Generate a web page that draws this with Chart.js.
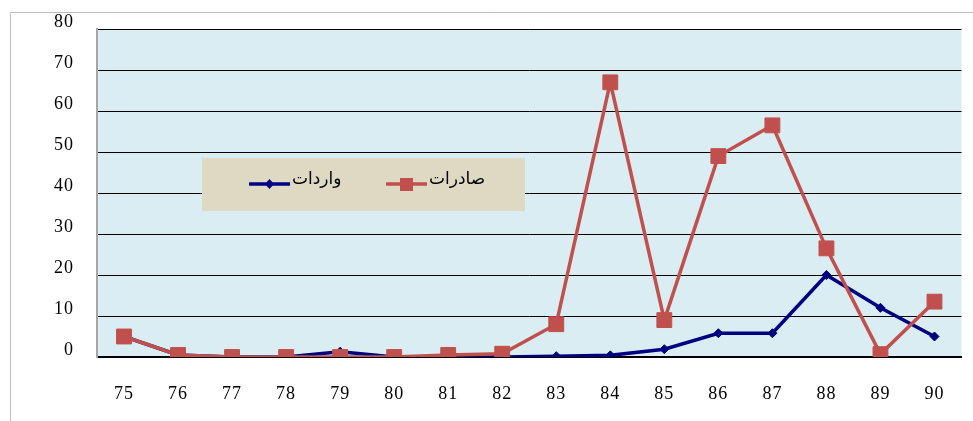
<!DOCTYPE html>
<html>
<head>
<meta charset="utf-8">
<script src="https://cdn.jsdelivr.net/npm/chart.js@4/dist/chart.umd.min.js"></script>
<style>
  html, body { margin: 0; padding: 0; background: #ffffff; }
  #wrap { width: 973px; height: 421px; position: relative; }
</style>
</head>
<body>
<div id="wrap"><canvas id="c" width="973" height="421"></canvas></div>
<script>
const years = ['75','76','77','78','79','80','81','82','83','84','85','86','87','88','89','90'];
const exportsVals = [5, 0.5, 0, 0, 0, 0, 0.5, 0.8, 8, 67, 9, 49, 56.5, 26.5, 0.7, 13.5];
const importsVals = [5, 0.5, 0, 0, 1.3, 0, 0, 0, 0.2, 0.4, 1.9, 5.8, 5.8, 20, 12, 5];
const exportsLabel = 'صادرات';
const importsLabel = 'واردات';
const yTicks = [0, 10, 20, 30, 40, 50, 60, 70, 80];

const RED = '#c0504d';
const NAVY = '#000080';

const bgPlugin = {
  id: 'bg',
  beforeDraw(chart) {
    const { ctx, chartArea: a } = chart;
    ctx.save();
    ctx.fillStyle = '#ffffff';
    ctx.fillRect(0, 0, chart.width, chart.height);
    ctx.fillStyle = '#daedf3';
    ctx.fillRect(a.left, a.top, a.right - a.left, a.bottom - a.top);
    ctx.strokeStyle = '#bdbdbd';
    ctx.lineWidth = 1;
    ctx.beginPath();
    ctx.moveTo(10.5, chart.height);
    ctx.lineTo(10.5, 12.5);
    ctx.lineTo(chart.width, 12.5);
    ctx.stroke();
    ctx.restore();
    ctx.letterSpacing = '1px';
  }
};

const legendPlugin = {
  id: 'boxLegend',
  afterDatasetsDraw(chart) {
    const ctx = chart.ctx;
    ctx.save();
    ctx.letterSpacing = '0px';
    ctx.fillStyle = '#ddd9c3';
    ctx.fillRect(202, 158, 323, 53);
    ctx.font = '17px "DejaVu Sans"';
    ctx.textBaseline = 'middle';
    ctx.textAlign = 'left';
    // imports item
    ctx.strokeStyle = NAVY;
    ctx.lineWidth = 3.5;
    ctx.beginPath(); ctx.moveTo(249, 184); ctx.lineTo(290, 184); ctx.stroke();
    ctx.fillStyle = NAVY;
    ctx.beginPath();
    ctx.moveTo(269.5, 179); ctx.lineTo(274, 184); ctx.lineTo(269.5, 189); ctx.lineTo(265, 184); ctx.closePath(); ctx.fill();
    ctx.fillStyle = '#000';
    ctx.fillText(importsLabel, 292, 180);
    // exports item
    ctx.strokeStyle = RED;
    ctx.lineWidth = 3.5;
    ctx.beginPath(); ctx.moveTo(386, 184); ctx.lineTo(427, 184); ctx.stroke();
    ctx.fillStyle = RED;
    ctx.fillRect(400, 178, 13, 13);
    ctx.fillStyle = '#000';
    ctx.fillText(exportsLabel, 429, 180);
    ctx.restore();
  }
};

new Chart(document.getElementById('c'), {
  type: 'line',
  data: {
    labels: years,
    datasets: [
      {
        label: exportsLabel,
        data: exportsVals,
        borderColor: RED,
        backgroundColor: RED,
        borderWidth: 3.5,
        pointStyle: 'rect',
        pointRadius: 10.5,
        pointBorderWidth: 1,
        pointBackgroundColor: RED,
        pointBorderColor: RED,
        tension: 0
      },
      {
        label: importsLabel,
        data: importsVals,
        borderColor: NAVY,
        backgroundColor: NAVY,
        borderWidth: 3.5,
        pointStyle: 'rectRot',
        pointRadius: 4.5,
        pointBorderWidth: 1,
        pointBackgroundColor: NAVY,
        pointBorderColor: NAVY,
        tension: 0
      }
    ]
  },
  options: {
    responsive: false,
    animation: false,
    devicePixelRatio: 1,
    layout: { padding: { top: 29, right: 11, left: 0, bottom: 0 } },
    plugins: {
      legend: { display: false },
      tooltip: { enabled: false }
    },
    scales: {
      x: {
        offset: true,
        grid: { display: false, drawTicks: false },
        border: { display: true, color: '#000000', width: 2 },
        ticks: {
          color: '#000000',
          font: { family: '"Liberation Serif"', size: 18 },
          padding: 26,
          maxRotation: 0,
          autoSkip: false
        },
        afterFit(scale) { scale.height = 64; scale.paddingLeft = 0; scale.paddingRight = 0; }
      },
      y: {
        min: 0,
        max: 80,
        afterBuildTicks(scale) { scale.ticks = yTicks.map(v => ({ value: v })); },
        grid: {
          color: '#000000',
          lineWidth: 1,
          drawTicks: false
        },
        border: { display: true, color: '#a6a6a6', width: 2 },
        ticks: {
          color: '#000000',
          font: { family: '"Liberation Serif"', size: 18 },
          padding: 23,
          labelOffset: -7
        },
        afterFit(scale) { scale.width = 97; scale.paddingTop = 0; scale.paddingBottom = 0; }
      }
    }
  },
  plugins: [bgPlugin, legendPlugin]
});
</script>
</body>
</html>
